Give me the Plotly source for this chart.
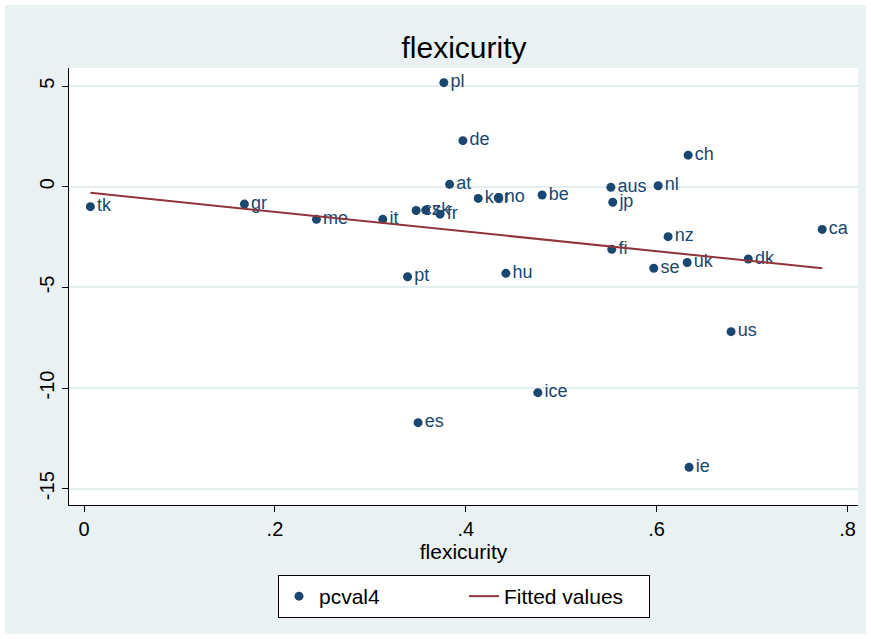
import plotly.graph_objects as go

countries = ["tk", "gr", "me", "it", "pt", "cz", "sk", "fr", "at", "pl", "de", "es",
             "kor", "no", "hu", "ice", "be", "aus", "fi", "jp", "se", "nl", "nz",
             "uk", "ch", "ie", "us", "dk", "ca"]
flexicurity = [0.0066, 0.168, 0.2435, 0.313, 0.339, 0.348, 0.358, 0.373, 0.383, 0.377,
               0.397, 0.350, 0.413, 0.434, 0.442, 0.4755, 0.480, 0.552, 0.553, 0.554,
               0.597, 0.6016, 0.612, 0.632, 0.633, 0.634, 0.678, 0.696, 0.7735]
pcval4 = [-0.99, -0.86, -1.62, -1.62, -4.47, -1.18, -1.16, -1.36, 0.12, 5.17,
          2.29, -11.72, -0.58, -0.55, -4.30, -10.23, -0.41, -0.03, -3.11, -0.77,
          -4.05, 0.05, -2.48, -3.76, 1.57, -13.94, -7.20, -3.59, -2.12]

fit_x = [0.0066, 0.7735]
fit_y = [-0.30, -4.05]

x_ticks = [0, 0.2, 0.4, 0.6, 0.8]
x_ticklabels = ["0", ".2", ".4", ".6", ".8"]
y_ticks = [-15, -10, -5, 0, 5]
y_ticklabels = ["-15", "-10", "-5", "0", "5"]

NAVY = "#1A476F"
MAROON = "#90353B"
BG = "#EAF1F3"
FONT = "Liberation Sans, Arial, sans-serif"

fig = go.Figure()
fig.add_trace(go.Scatter(
    x=flexicurity, y=pcval4, mode="markers+text", name="pcval4",
    text=countries, textposition="middle right",
    textfont=dict(color=NAVY, size=18, family=FONT),
    marker=dict(color=NAVY, size=9),
))
fig.add_trace(go.Scatter(
    x=fit_x, y=fit_y, mode="lines", name="Fitted values",
    line=dict(color=MAROON, width=2),
))

W, H = 871, 639
L, R, T, B = 69, 858, 68, 505
pw, ph = R - L, B - T

def px2x(p):
    return (p - L) / pw

def px2y(p):
    return (B - p) / ph

fig.update_layout(
    width=W, height=H,
    margin=dict(l=L, r=W - R, t=T, b=H - B, autoexpand=False),
    paper_bgcolor="white",
    plot_bgcolor="rgba(0,0,0,0)",
    font=dict(family=FONT, color="black"),
    title=dict(text="flexicurity", x=464 / W, xanchor="center",
               y=1 - 47 / H, yanchor="middle",
               font=dict(size=30, family=FONT, color="black")),
    showlegend=True,
    legend=dict(orientation="h", x=px2x(464), xanchor="center", y=px2y(575), yanchor="top",
                bgcolor="white", bordercolor="black", borderwidth=1,
                font=dict(size=21, family=FONT, color="black"),
                itemwidth=30, entrywidth=140, tracegroupgap=0),
    shapes=[
        dict(type="rect", xref="paper", yref="paper", layer="below",
             x0=px2x(5), x1=px2x(866), y0=px2y(634), y1=px2y(5),
             fillcolor=BG, line=dict(width=0)),
        dict(type="rect", xref="paper", yref="paper", layer="below",
             x0=0, x1=1, y0=0, y1=1,
             fillcolor="white", line=dict(width=0)),
    ],
)
fig.update_xaxes(
    automargin=False,
    range=[-0.0158, 0.811], tickvals=x_ticks, ticktext=x_ticklabels,
    showgrid=False, zeroline=False, showline=True, linecolor="black", linewidth=1,
    ticks="outside", ticklen=6, tickcolor="black",
    tickfont=dict(size=20, family=FONT, color="black"),
    title=dict(text="flexicurity", font=dict(size=21, family=FONT, color="black"), standoff=2),
)
fig.update_yaxes(
    automargin=False,
    range=[-15.81, 5.9], tickvals=y_ticks, ticktext=y_ticklabels, tickangle=-90,
    showgrid=True, gridcolor="#E4EDF0", gridwidth=1.5, zeroline=False,
    showline=True, linecolor="black", linewidth=1,
    ticks="outside", ticklen=6, tickcolor="black",
    tickfont=dict(size=20, family=FONT, color="black"),
)

fig.write_html("out.html", config={"displayModeBar": False},
               post_script="document.body.style.margin='0';document.body.style.overflow='hidden';")
